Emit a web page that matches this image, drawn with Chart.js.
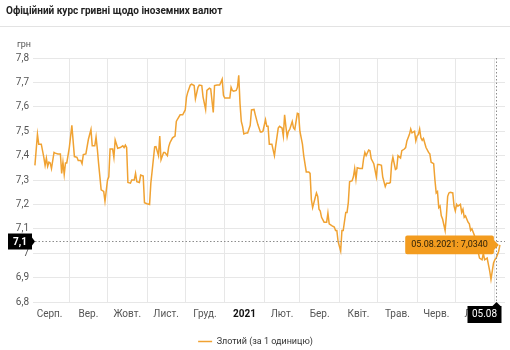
<!DOCTYPE html>
<html lang="uk">
<head>
<meta charset="utf-8">
<title>Офіційний курс гривні щодо іноземних валют</title>
<script src="https://cdn.jsdelivr.net/npm/chart.js@4.4.1/dist/chart.umd.min.js"></script>
<style>
	html, body { margin: 0; padding: 0; background: #fff; overflow: hidden; }
	#rateChart { display: block; }
</style>
</head>
<body>
<canvas id="rateChart" width="510" height="356"></canvas>
<script>
// Zloty rate, UAH per 1 unit. Days are counted from 05.08.2020.
const startDate = Date.UTC(2020, 7, 5);
const DAY = 86400000;

const days = [
	0, 2, 3, 5, 7, 8, 9, 10, 11, 12,
	13, 15, 16, 18, 20, 21, 22, 23, 24, 25,
	27, 29, 31, 33, 34, 36, 37, 38, 40, 42,
	44, 45, 47, 48, 49, 50, 52, 54, 55, 57,
	58, 59, 61, 62, 63, 65, 67, 69, 70, 71,
	72, 73, 75, 76, 78, 79, 80, 82, 83, 85,
	86, 88, 90, 91, 92, 94, 95, 97, 98, 99,
	101, 102, 104, 105, 106, 108, 110, 111, 112, 114,
	116, 118, 119, 120, 122, 123, 125, 126, 128, 129,
	131, 132, 134, 135, 137, 138, 140, 141, 143, 145,
	146, 147, 148, 149, 151, 153, 154, 155, 156, 158,
	159, 160, 161, 162, 163, 164, 166, 167, 169, 170,
	172, 173, 175, 177, 178, 179, 181, 182, 183, 184,
	186, 188, 189, 191, 192, 194, 195, 196, 197, 198,
	199, 200, 202, 203, 204, 206, 207, 208, 210, 211,
	213, 215, 216, 217, 218, 220, 221, 222, 223, 224,
	225, 227, 229, 230, 231, 233, 235, 236, 237, 238,
	240, 241, 242, 244, 245, 246, 247, 249, 250, 251,
	252, 253, 255, 257, 258, 259, 260, 262, 263, 264,
	266, 268, 269, 270, 272, 273, 275, 276, 278, 279,
	280, 281, 283, 284, 285, 287, 288, 290, 291, 292,
	294, 295, 296, 298, 299, 300, 301, 302, 303, 304,
	305, 307, 309, 310, 311, 313, 314, 315, 316, 317,
	318, 319, 320, 322, 323, 324, 325, 326, 328, 329,
	330, 331, 332, 334, 335, 336, 337, 338, 340, 341,
	342, 343, 345, 349, 351, 352, 353, 355, 356, 357,
	358, 360, 361, 362, 364, 365
];

const rates = [
	7.360, 7.487, 7.447, 7.447, 7.393, 7.360, 7.390, 7.356, 7.373, 7.370,
	7.347, 7.413, 7.410, 7.407, 7.407, 7.327, 7.373, 7.323, 7.370, 7.370,
	7.433, 7.524, 7.396, 7.393, 7.380, 7.380, 7.367, 7.404, 7.407, 7.467,
	7.507, 7.440, 7.440, 7.476, 7.427, 7.367, 7.260, 7.253, 7.213, 7.300,
	7.313, 7.427, 7.427, 7.393, 7.464, 7.430, 7.433, 7.440, 7.433, 7.443,
	7.433, 7.290, 7.287, 7.300, 7.300, 7.327, 7.293, 7.290, 7.320, 7.316,
	7.207, 7.203, 7.200, 7.287, 7.336, 7.436, 7.437, 7.400, 7.480, 7.383,
	7.413, 7.413, 7.400, 7.436, 7.453, 7.473, 7.480, 7.540, 7.550, 7.567,
	7.567, 7.587, 7.640, 7.660, 7.689, 7.693, 7.687, 7.633, 7.680, 7.689,
	7.687, 7.640, 7.589, 7.667, 7.676, 7.673, 7.577, 7.687, 7.689, 7.689,
	7.700, 7.713, 7.647, 7.636, 7.636, 7.636, 7.680, 7.667, 7.664, 7.667,
	7.680, 7.729, 7.613, 7.540, 7.520, 7.489, 7.493, 7.493, 7.524, 7.587,
	7.589, 7.567, 7.527, 7.497, 7.497, 7.500, 7.547, 7.520, 7.520, 7.447,
	7.447, 7.400, 7.440, 7.513, 7.520, 7.513, 7.480, 7.567, 7.520, 7.476,
	7.500, 7.507, 7.540, 7.513, 7.507, 7.573, 7.571, 7.500, 7.447, 7.400,
	7.333, 7.333, 7.327, 7.220, 7.187, 7.227, 7.247, 7.233, 7.180, 7.173,
	7.147, 7.127, 7.127, 7.164, 7.120, 7.113, 7.107, 7.093, 7.093, 7.047,
	7.009, 7.093, 7.093, 7.167, 7.167, 7.207, 7.293, 7.297, 7.313, 7.347,
	7.303, 7.350, 7.347, 7.347, 7.387, 7.413, 7.400, 7.423, 7.420, 7.387,
	7.367, 7.313, 7.364, 7.364, 7.360, 7.313, 7.273, 7.287, 7.287, 7.290,
	7.367, 7.393, 7.343, 7.347, 7.400, 7.390, 7.420, 7.427, 7.433, 7.460,
	7.487, 7.509, 7.493, 7.500, 7.460, 7.480, 7.487, 7.509, 7.473, 7.463,
	7.470, 7.433, 7.413, 7.407, 7.373, 7.367, 7.300, 7.247, 7.253, 7.187,
	7.193, 7.153, 7.140, 7.093, 7.153, 7.233, 7.247, 7.250, 7.247, 7.193,
	7.173, 7.200, 7.193, 7.200, 7.167, 7.180, 7.147, 7.153, 7.127, 7.120,
	7.093, 7.100, 7.073, 6.980, 6.973, 7.000, 6.973, 6.980, 6.953, 6.927,
	6.893, 6.960, 6.973, 6.980, 7.007, 7.034
];

const monthLabels = ["Серп.", "Вер.", "Жовт.", "Лист.", "Груд.", "2021", "Лют.", "Бер.", "Квіт.", "Трав.", "Черв.", "Лип."];
const yMin = 6.8;
const yMax = 7.8;
const yStep = 0.1;

// cursor position (day, rate)
const cursorDay = 362;
const cursorRate = 7.052;

// first day of every month, as day offsets (Aug 2020 .. Aug 2021)
const monthStarts = [];
for (let i = 0; i <= 12; i++) {
	monthStarts.push(Math.round((Date.UTC(2020, 7 + i, 1) - startDate) / DAY));
}
const monthMids = monthLabels.map((m, i) => (monthStarts[i] + monthStarts[i + 1]) / 2);

function pad2(n) {
	return (n < 10 ? "0" : "") + n;
}

function fmtDate(day, withYear) {
	const d = new Date(startDate + day * DAY);
	const s = pad2(d.getUTCDate()) + "." + pad2(d.getUTCMonth() + 1);
	return withYear ? s + "." + d.getUTCFullYear() : s;
}

function fmtRate(v, digits) {
	return Number(v.toFixed(digits)).toString().replace(".", ",");
}

const xMin = -1.5;
const xMax = 369;
const gridColor = "#e7e7e7";
const lineColor = "#f0a232";

// title rule, unit caption, cursor lines and axis value boxes
const chartDecor = {
	id: "chartDecor",
	beforeDraw(chart) {
		const ctx = chart.ctx;
		ctx.save();
		ctx.fillStyle = "#fff";
		ctx.fillRect(0, 0, chart.width, chart.height);
		ctx.strokeStyle = "#e3e3e3";
		ctx.lineWidth = 1;
		ctx.beginPath();
		ctx.moveTo(0, 26.5);
		ctx.lineTo(chart.width, 26.5);
		ctx.stroke();
		ctx.fillStyle = "#555";
		ctx.font = "9px Roboto";
		ctx.textBaseline = "middle";
		ctx.fillText("грн", 17, 45);
		ctx.restore();
	},
	afterDatasetsDraw(chart) {
		const ctx = chart.ctx;
		const a = chart.chartArea;
		const cx = Math.round(chart.scales.x.getPixelForValue(cursorDay)) + 0.5;
		const cy = Math.round(chart.scales.y.getPixelForValue(cursorRate)) + 0.5;
		ctx.save();
		ctx.strokeStyle = "#8c8c8c";
		ctx.lineWidth = 1;
		ctx.setLineDash([1.5, 2]);
		ctx.beginPath();
		ctx.moveTo(a.left + 2, cy);
		ctx.lineTo(a.right, cy);
		ctx.moveTo(cx, a.top);
		ctx.lineTo(cx, a.bottom);
		ctx.stroke();
		ctx.setLineDash([]);

		// value box on the y axis
		ctx.fillStyle = "#000";
		const yr = a.left - 1;
		ctx.fillRect(yr - 24, cy - 8, 24, 16);
		ctx.beginPath();
		ctx.moveTo(yr, cy - 4);
		ctx.lineTo(yr + 3, cy);
		ctx.lineTo(yr, cy + 4);
		ctx.fill();
		ctx.fillStyle = "#fff";
		ctx.font = "bold 10px Roboto";
		ctx.textAlign = "center";
		ctx.textBaseline = "middle";
		ctx.fillText(fmtRate(cursorRate, 1), yr - 12, cy + 0.5);

		// date box on the x axis
		const top = a.bottom + 4;
		const right = Math.min(cx + 5, a.right);
		ctx.fillStyle = "#000";
		ctx.fillRect(right - 34, top, 34, 17);
		ctx.beginPath();
		ctx.moveTo(cx - 4, top);
		ctx.lineTo(cx, top - 4);
		ctx.lineTo(cx + 4, top);
		ctx.fill();
		ctx.fillStyle = "#fff";
		ctx.font = "10px Roboto";
		ctx.fillText(fmtDate(days[days.length - 1], false), right - 17, top + 8.5);
		ctx.restore();
	}
};

Chart.defaults.font.family = "Roboto, 'Noto Sans', sans-serif";

const ctx = document.getElementById("rateChart").getContext("2d");
const rateChart = new Chart(ctx, {
	type: "line",
	data: {
		datasets: [{
			label: "Злотий (за 1 одиницю)",
			data: days.map((d, i) => ({ x: d, y: rates[i] })),
			xAxisID: "x",
			yAxisID: "y",
			borderColor: lineColor,
			backgroundColor: lineColor,
			borderWidth: 1.5,
			pointRadius: 0,
			pointHoverRadius: 0,
			tension: 0,
			fill: false
		}]
	},
	options: {
		responsive: false,
		animation: false,
		devicePixelRatio: 1,
		events: [],
		layout: { padding: { left: 6, right: 5, top: 0, bottom: 0 } },
		plugins: {
			title: {
				display: true,
				text: "Офіційний курс гривні щодо іноземних валют",
				align: "start",
				color: "#222",
				font: { size: 10, weight: "bold" },
				padding: { top: 5, bottom: 41 }
			},
			legend: {
				display: true,
				position: "bottom",
				labels: {
					usePointStyle: true,
					pointStyle: "line",
					pointStyleWidth: 14,
					boxHeight: 9,
					color: "#333",
					font: { size: 9 },
					padding: 11
				}
			},
			tooltip: {
				enabled: true,
				xAlign: "right",
				yAlign: "center",
				backgroundColor: "#f39c1f",
				bodyColor: "#2e2108",
				bodyFont: { size: 9 },
				padding: { x: 6, y: 4 },
				cornerRadius: 2,
				caretSize: 5,
				caretPadding: 1,
				displayColors: false,
				callbacks: {
					title: () => [],
					label: c => fmtDate(c.parsed.x, true) + ": " + c.parsed.y.toFixed(4).replace(".", ",")
				}
			}
		},
		scales: {
			x: {
				type: "linear",
				position: "bottom",
				min: xMin,
				max: xMax,
				afterBuildTicks: s => { s.ticks = monthStarts.slice(1).map(v => ({ value: v })); },
				afterFit: s => { s.height = 0; },
				ticks: { display: false },
				grid: { color: gridColor, drawTicks: false },
				border: { display: false }
			},
			months: {
				type: "linear",
				axis: "x",
				position: "bottom",
				min: xMin,
				max: xMax,
				afterBuildTicks: s => { s.ticks = monthMids.map(v => ({ value: v })); },
				ticks: {
					autoSkip: false,
					maxRotation: 0,
					padding: 6,
					callback: (v, i) => monthLabels[i],
					color: c => c.index === 5 ? "#111" : "#555",
					font: c => ({ size: 10, weight: c.index === 5 ? "bold" : "normal" })
				},
				grid: { display: false, drawTicks: false },
				border: { display: false }
			},
			y: {
				min: yMin,
				max: yMax,
				afterFit: s => { s.width = 27; },
				ticks: {
					stepSize: yStep,
					padding: 4,
					color: "#555",
					font: { size: 10 },
					callback: v => fmtRate(v, 1)
				},
				grid: { color: gridColor, drawTicks: false },
				border: { display: false }
			}
		}
	},
	plugins: [chartDecor]
});

// keep the last day's tooltip open
rateChart.tooltip.setActiveElements([{ datasetIndex: 0, index: rates.length - 1 }], { x: 0, y: 0 });
rateChart.update();
</script>
</body>
</html>
